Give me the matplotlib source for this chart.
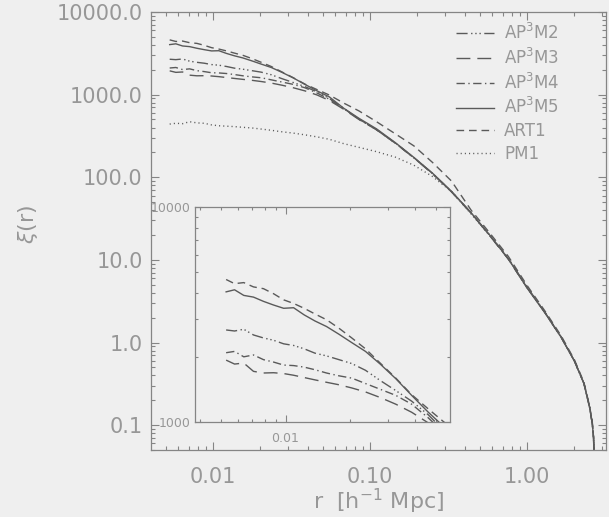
import matplotlib
matplotlib.use("Agg")
from matplotlib import pyplot as plt
from matplotlib.ticker import LogLocator, NullFormatter

# separation grid [h^-1 Mpc]
r = [0.0053, 0.0058, 0.0064, 0.0071, 0.0079, 0.0088, 0.0098, 0.0109, 0.0122,
     0.0137, 0.0155, 0.0177, 0.0203, 0.0235, 0.0275, 0.0325, 0.0385, 0.046,
     0.055, 0.068, 0.085, 0.11, 0.145, 0.19, 0.25, 0.33, 0.44, 0.58, 0.76,
     1.0, 1.3, 1.65, 2.0, 2.3, 2.5, 2.6, 2.65, 2.68]

xi_ap3m2 = [2680, 2650, 2700, 2540, 2460, 2400, 2310, 2270, 2190, 2090, 2030,
            1950, 1870, 1740, 1560, 1400, 1250, 1080, 900, 680, 505, 375, 258,
            172, 111, 67, 37, 19.8, 10.4, 4.7, 2.3, 1.17, 0.60, 0.32, 0.165,
            0.105, 0.07, 0.03]
xi_ap3m3 = [1940, 1860, 1880, 1720, 1690, 1695, 1680, 1650, 1610, 1570, 1530,
            1490, 1440, 1380, 1300, 1210, 1110, 990, 850, 665, 500, 375, 258,
            172, 110, 66.5, 36.8, 19.5, 10.2, 4.6, 2.3, 1.15, 0.6, 0.32, 0.165,
            0.105, 0.07, 0.03]
xi_ap3m4 = [2100, 2130, 2010, 2050, 1950, 1900, 1840, 1830, 1800, 1750, 1690,
            1640, 1600, 1510, 1420, 1330, 1210, 1045, 880, 680, 505, 378, 259,
            173, 111, 67, 37, 19.6, 10.2, 4.6, 2.3, 1.15, 0.6, 0.32, 0.165,
            0.105, 0.07, 0.03]
xi_ap3m5 = [4030, 4120, 3880, 3810, 3640, 3500, 3380, 3400, 3150, 2950, 2780,
            2560, 2340, 2130, 1860, 1590, 1330, 1110, 940, 684, 517, 385, 262,
            174, 112, 67.6, 37.2, 19.8, 10.3, 4.57, 2.28, 1.15, 0.597, 0.321,
            0.165, 0.105, 0.07, 0.03]
xi_art1 = [4600, 4400, 4450, 4250, 4170, 3950, 3700, 3560, 3380, 3180, 2990,
           2730, 2460, 2190, 1880, 1600, 1340, 1150, 990, 790, 635, 470, 335,
           240, 151, 90, 40, 21, 11, 4.9, 2.4, 1.2, 0.62, 0.33, 0.17, 0.11,
           0.072, 0.03]
xi_pm1 = [440, 450, 445, 470, 455, 450, 430, 420, 415, 410, 402, 395, 383,
          370, 355, 342, 326, 308, 288, 255, 230, 204, 175, 140, 102, 67, 36,
          19.5, 10.3, 4.6, 2.3, 1.15, 0.6, 0.32, 0.165, 0.105, 0.07, 0.03]

labels = ["AP$^3$M2", "AP$^3$M3", "AP$^3$M4", "AP$^3$M5", "ART1", "PM1"]
series = [xi_ap3m2, xi_ap3m3, xi_ap3m4, xi_ap3m5, xi_art1, xi_pm1]
styles = [(0, (8, 2.5, 1, 2, 1, 2, 1, 2.5)), (0, (10, 5)),
          (0, (6, 2.5, 1, 2.5)), "-", (0, (5.5, 3.5)), (0, (0.8, 2.2))]

yticks = [0.1, 1, 10, 100, 1000, 10000]
ytick_labels = ["0.1", "1.0", "10.0", "100.0", "1000.0", "10000.0"]
xticks = [0.01, 0.1, 1]
xtick_labels = ["0.01", "0.10", "1.00"]

bg = "#efefef"
fg = "#979797"
sc = "#858585"
lc = "#5a5a5a"

plt.rcParams["font.family"] = "DejaVu Sans"
fig = plt.figure(figsize=(6.09, 5.17), dpi=100, facecolor=bg)


def style_axes(a, major, minor, size):
    a.set_facecolor(bg)
    for s in a.spines.values():
        s.set_color(sc)
        s.set_linewidth(0.9)
    a.tick_params(which="both", direction="in", top=True, right=True,
                  colors=sc, labelcolor=fg, labelsize=size, width=0.8)
    a.tick_params(which="major", length=major)
    a.tick_params(which="minor", length=minor)


ax = fig.add_axes([151 / 609, 67 / 517, 455 / 609, 438 / 517])
for xi, lab, ls in zip(series, labels, styles):
    ax.plot(r, xi, color=lc, lw=1.0, ls=ls, label=lab)
ax.set_xscale("log")
ax.set_yscale("log")
ax.set_xlim(0.00403, 3.18)
ax.set_ylim(0.05, 10000)
style_axes(ax, 6, 3, 15)
ax.set_xticks(xticks)
ax.set_xticklabels(xtick_labels)
ax.set_yticks(yticks)
ax.set_yticklabels(ytick_labels)
ax.xaxis.set_minor_locator(LogLocator(base=10, subs=range(2, 10), numticks=20))
ax.yaxis.set_minor_locator(LogLocator(base=10, subs=range(2, 10), numticks=20))
ax.xaxis.set_minor_formatter(NullFormatter())
ax.yaxis.set_minor_formatter(NullFormatter())
ax.tick_params(axis="x", which="major", pad=12)
ax.tick_params(axis="y", which="major", pad=6)
ax.set_xlabel("r  [h$^{-1}$ Mpc]", fontsize=16, color=fg)
ax.xaxis.set_label_coords(0.5, -0.085)
ax.set_ylabel(r"$\xi$(r)", fontsize=16, color=fg)
ax.yaxis.set_label_coords(-0.245, 0.515)

leg = ax.legend(loc="upper left", bbox_to_anchor=(0.655, 0.99), frameon=False,
                fontsize=12, handlelength=2.3, handletextpad=0.6,
                labelspacing=0.28, borderaxespad=0)
for t in leg.get_texts():
    t.set_color(fg)

# inset zoom on small scales
ins = fig.add_axes([195 / 609, 95 / 517, 255 / 609, 215 / 517])
for xi, ls in zip(series, styles):
    ins.plot(r, xi, color=lc, lw=1.0, ls=ls)
ins.set_xscale("log")
ins.set_yscale("log")
ins.set_xlim(0.0038, 0.058)
ins.set_ylim(1000, 10000)
style_axes(ins, 5, 2.5, 9)
ins.set_xticks([0.01])
ins.set_xticklabels(["0.01"])
ins.set_yticks([1000, 10000])
ins.set_yticklabels(["1000", "10000"])
ins.xaxis.set_minor_locator(LogLocator(base=10, subs=range(2, 10), numticks=20))
ins.yaxis.set_minor_locator(LogLocator(base=10, subs=range(2, 10), numticks=20))
ins.xaxis.set_minor_formatter(NullFormatter())
ins.yaxis.set_minor_formatter(NullFormatter())
ins.tick_params(axis="x", which="major", pad=7)
ins.tick_params(axis="y", which="major", pad=3)

fig.savefig("out.png", dpi=100, facecolor=bg)
